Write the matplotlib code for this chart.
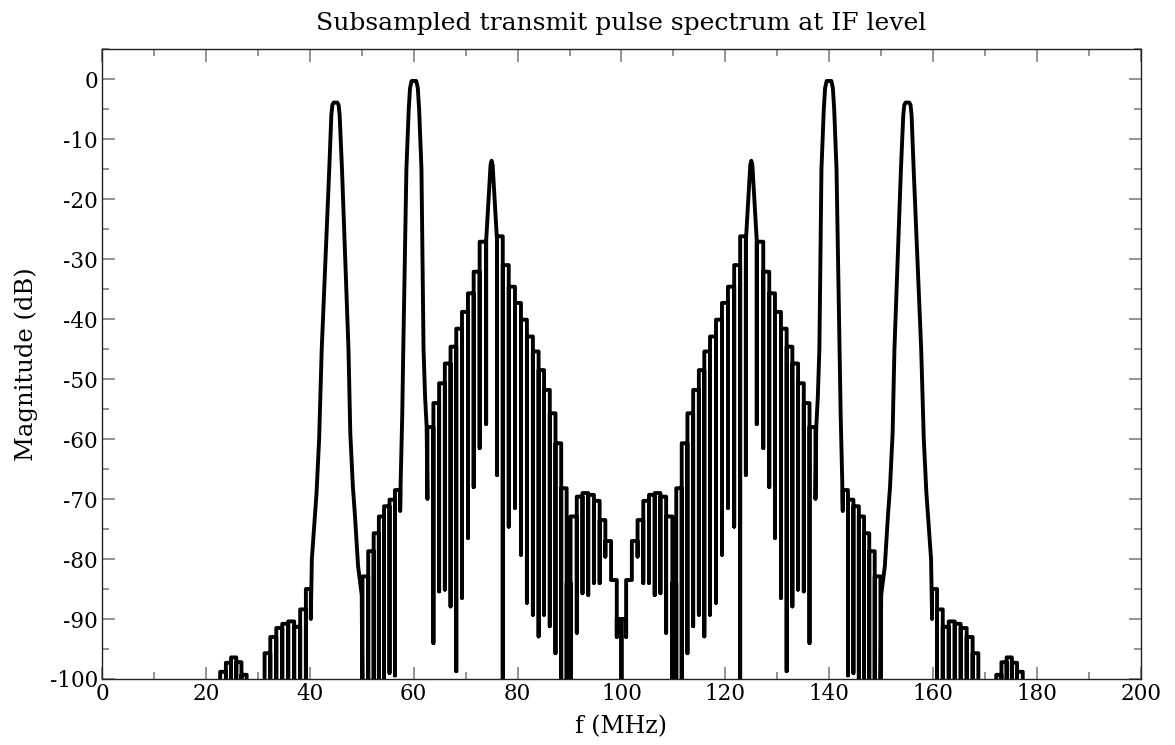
import numpy as np
import matplotlib
matplotlib.use("Agg")
import matplotlib.pyplot as plt
from matplotlib.ticker import MultipleLocator

# Spektrum (Frequenz in MHz, Betrag in dB).
# Nebenkeulen: Nullstellen (Frequenz, Tiefe) und Stufenhoehe dazwischen.
# Werte unter -100 dB liegen ausserhalb des Achsenbereichs.

# --- linke Haelfte ---
tail_l_nf = [22.75, 23.85, 24.85, 25.85, 26.85, 27.85]
tail_l_nd = [-106, -106, -106, -106, -106, -106]
tail_l_top = [-98.8, -97.3, -96.4, -97.2, -99.3]

ripple_l_nf = [31.3, 32.4, 33.55, 34.7, 35.85, 37.0, 38.15, 39.25, 40.2]
ripple_l_nd = [-106, -106, -106, -106, -106, -106, -106, -104, -90]
ripple_l_top = [-95.7, -93.0, -91.5, -90.8, -90.4, -91.3, -88.4, -85]

lobe45_f = [40.4, 40.9, 41.3, 41.8, 42.3, 43.75, 44.15, 44.35, 44.6, 45.3, 45.55,
            45.75, 46.2, 47.45, 47.8, 48.3, 48.7, 49.3, 50.0]
lobe45_db = [-80, -74, -69, -60, -45, -15, -6, -4.3, -3.9, -3.9, -4.3,
             -6, -15, -45, -59, -68, -72.8, -81.2, -86]

side50_nf = [50.15, 51.25, 52.3, 53.3, 54.3, 55.35, 56.4, 57.4]
side50_nd = [-106, -104, -104, -104, -103, -99, -99.4, -72]
side50_top = [-82.9, -78.7, -75.7, -72.9, -71.2, -70.1, -68.5]

lobe60_f = [57.5, 57.8, 58.0, 58.6, 59.05, 59.3, 59.6, 60.5, 60.8, 61.05,
            61.5, 61.9, 62.2, 62.5]
lobe60_db = [-67, -56, -45, -15, -5, -1.5, -0.3, -0.3, -1.5, -5,
             -15, -45, -53, -58]

side70_nf = [62.65, 63.8, 64.9, 66.0, 67.1, 68.2, 69.3, 70.45, 71.55, 72.7, 73.95]
side70_nd = [-70, -94, -85.4, -85.1, -87.9, -98.7, -86.5, -76.5, -68, -61.5, -57.5]
side70_top = [-58, -54, -50.7, -47.4, -44.6, -41.6, -38.8, -35.7, -32.1, -27.1]

lobe75_f = [73.95, 74.8, 75.0, 75.2, 76.05]
lobe75_db = [-27, -14.3, -13.6, -14.3, -27]

# --- Mitte (76 bis 124 MHz) ---
mid_nf = [76.05, 77.15, 78.3, 79.5, 80.65, 81.8, 82.95, 84.05, 85.1, 86.2, 87.3,
          88.4, 89.45, 90.2, 91.4, 92.5, 93.6, 94.7, 95.8, 96.9, 98.0, 99.1,
          100.0,
          100.9, 102.0, 103.1, 104.2, 105.3, 106.4, 107.5, 108.6, 109.8, 110.55,
          111.6, 112.7, 113.8, 114.9, 115.95, 117.05, 118.2, 119.35, 120.5, 121.7,
          122.85, 123.95]
mid_nd = [-66, -105, -74.6, -71.5, -79.3, -87.3, -89.3, -92.9, -89.3, -91.2, -95.7,
          -100, -104, -106, -92.3, -85.7, -86, -84, -84, -79.6, -82.6, -93,
          -106,
          -93, -82.6, -79.6, -84, -84, -86, -85.7, -92.3, -106, -104,
          -100, -95.7, -91.2, -89.3, -92.9, -89.3, -87.3, -79.3, -71.5, -74.6,
          -105, -66]
mid_top = [-26.2, -31, -34.6, -37.3, -40.1, -42.9, -45.4, -48.5, -51.8, -55.7,
           -60.7, -68.2, -84,
           -72.9, -69.6, -69.0, -69.3, -70.3, -73.5, -77.0, -83.5, -90,
           -90, -83.5, -77.0, -73.5, -70.3, -69.3, -69.0, -69.6, -72.9,
           -84, -68.2, -60.7, -55.7, -51.8, -48.5, -45.4, -42.9, -40.1, -37.3,
           -34.6, -31, -26.2]

# --- rechte Haelfte ---
lobe125_f = [123.95, 124.8, 125.0, 125.2, 126.05]
lobe125_db = [-27, -14.3, -13.6, -14.3, -27]

side130_nf = [126.05, 127.3, 128.45, 129.55, 130.7, 131.8, 132.9, 134.0, 135.1, 136.2, 137.35]
side130_nd = [-57.5, -61.5, -68, -76.5, -86.5, -98.7, -87.9, -85.1, -85.4, -94, -70]
side130_top = [-27.1, -32.1, -35.7, -38.8, -41.6, -44.6, -47.4, -50.7, -54, -58]

lobe140_f = [137.5, 137.8, 138.1, 138.5, 138.95, 139.2, 139.5, 140.4, 140.7,
             140.95, 141.4, 142.0, 142.2, 142.5]
lobe140_db = [-58, -53, -45, -15, -5, -1.5, -0.3, -0.3, -1.5,
              -5, -15, -45, -56, -67]

side150_nf = [142.6, 143.6, 144.65, 145.7, 146.7, 147.7, 148.75, 149.85]
side150_nd = [-72, -99.4, -99, -103, -104, -104, -104, -106]
side150_top = [-68.5, -70.1, -71.2, -72.9, -75.7, -78.7, -82.9]

lobe155_f = [150.0, 150.7, 151.3, 151.7, 152.2, 152.55, 153.8, 154.25, 154.45,
             154.7, 155.4, 155.65, 155.85, 156.25, 157.7, 158.2, 158.7, 159.1, 159.6]
lobe155_db = [-86, -81.2, -72.8, -68, -59, -45, -15, -6, -4.3,
              -3.9, -3.9, -4.3, -6, -15, -45, -60, -69, -74, -80]

ripple_r_nf = [159.8, 160.75, 161.85, 163.0, 164.15, 165.3, 166.45, 167.6, 168.7]
ripple_r_nd = [-90, -104, -106, -106, -106, -106, -106, -106, -106]
ripple_r_top = [-85, -88.4, -91.3, -90.4, -90.8, -91.5, -93.0, -95.7]

tail_r_nf = [172.15, 173.15, 174.15, 175.15, 176.15, 177.25]
tail_r_nd = [-106, -106, -106, -106, -106, -106]
tail_r_top = [-99.3, -97.2, -96.4, -97.3, -98.8]


def stairs(nf, nd, top):
    # Stufen zwischen den Nullstellen, an jeder Nullstelle eine senkrechte Spitze
    xs, ys = [], []
    for i in range(len(nf)):
        if i > 0:
            xs.append(nf[i]); ys.append(top[i - 1])
        xs.append(nf[i]); ys.append(nd[i])
        if i < len(top):
            xs.append(nf[i]); ys.append(top[i])
    return xs, ys


parts = [
    stairs(tail_l_nf, tail_l_nd, tail_l_top),
    stairs(ripple_l_nf, ripple_l_nd, ripple_l_top),
    (lobe45_f, lobe45_db),
    stairs(side50_nf, side50_nd, side50_top),
    (lobe60_f, lobe60_db),
    stairs(side70_nf, side70_nd, side70_top),
    (lobe75_f, lobe75_db),
    stairs(mid_nf, mid_nd, mid_top),
    (lobe125_f, lobe125_db),
    stairs(side130_nf, side130_nd, side130_top),
    (lobe140_f, lobe140_db),
    stairs(side150_nf, side150_nd, side150_top),
    (lobe155_f, lobe155_db),
    stairs(ripple_r_nf, ripple_r_nd, ripple_r_top),
    stairs(tail_r_nf, tail_r_nd, tail_r_top),
]
f = np.concatenate([p[0] for p in parts])
mag = np.concatenate([p[1] for p in parts])

plt.rcParams['font.family'] = ['DejaVu Serif']
plt.rcParams['font.size'] = 15.5
plt.rcParams['axes.unicode_minus'] = False

fig = plt.figure(figsize=(11.75, 7.45), dpi=100)
ax = fig.add_subplot(111)
plt.subplots_adjust(left=0.0868, right=0.971, top=0.934, bottom=0.0886)

ax.plot(f, mag, color="black", linewidth=2.8)

ax.set_xlim(0, 200)
ax.set_ylim(-100, 5)
ax.xaxis.set_major_locator(MultipleLocator(20))
ax.xaxis.set_minor_locator(MultipleLocator(10))
ax.yaxis.set_major_locator(MultipleLocator(10))
ax.yaxis.set_minor_locator(MultipleLocator(5))
ax.tick_params(which="both", direction="in", top=True, right=True,
               color="#808080", width=1.2)
ax.tick_params(which="major", length=9, pad=3)
ax.tick_params(which="minor", length=5)
for s in ax.spines.values():
    s.set_linewidth(1.0)
    s.set_color("#222222")

ax.set_title("Subsampled transmit pulse spectrum at IF level", fontsize=18, pad=14)
ax.set_xlabel("f (MHz)", fontsize=17, labelpad=7)
ax.set_ylabel("Magnitude (dB)", fontsize=17.5, labelpad=8)

plt.savefig("out.png", dpi=100)
